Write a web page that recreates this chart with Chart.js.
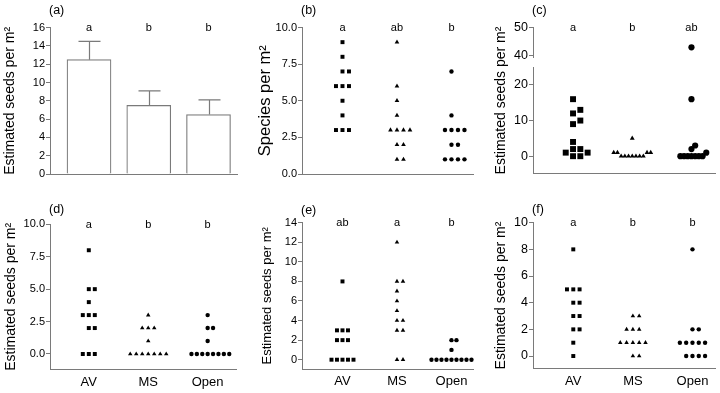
<!DOCTYPE html>
<html><head><meta charset="utf-8">
<script src="https://cdn.jsdelivr.net/npm/chart.js@4/dist/chart.umd.min.js"></script>
<style>
html,body{margin:0;padding:0;background:#fff;width:720px;height:393px;overflow:hidden}
.p{position:absolute}
</style></head><body>
<div class="p" style="left:0;top:0;width:240px;height:196px"><canvas id="ca"></canvas></div>
<div class="p" style="left:240px;top:0;width:240px;height:196px"><canvas id="cb"></canvas></div>
<div class="p" style="left:480px;top:0;width:240px;height:196px"><canvas id="cc"></canvas></div>
<div class="p" style="left:0;top:196px;width:240px;height:197px"><canvas id="cd"></canvas></div>
<div class="p" style="left:240px;top:196px;width:240px;height:197px"><canvas id="ce"></canvas></div>
<div class="p" style="left:480px;top:196px;width:240px;height:197px"><canvas id="cf"></canvas></div>
<script>
// ---------------- DATA ----------------
const groups = ['AV', 'MS', 'Open'];

// (a) mean estimated seeds per m2 with standard error
const seedMeans = [12.5, 7.5, 6.5];
const seedSE = [2.0, 1.6, 1.6];
const lettersA = ['a', 'b', 'b'];
const ticksA = [0, 2, 4, 6, 8, 10, 12, 14, 16];

// (b) species per m2
const speciesAV = [9, 8, 7, 7, 6, 6, 6, 5, 4, 3, 3, 3];
const speciesMS = [9, 6, 5, 4, 3, 3, 3, 3, 2, 2, 1, 1];
const speciesOpen = [7, 4, 3, 3, 3, 3, 2, 2, 1, 1, 1, 1];
const lettersB = ['a', 'ab', 'b'];
const ticksB = [0, 2.5, 5, 7.5, 10];

// (c) estimated seeds per m2 (broken axis)
const cAV = [16, 13, 12, 10, 9, 4, 2, 2, 1, 1, 0, 0];
const cMS = [5, 1, 1, 1, 1, 0, 0, 0, 0, 0, 0, 0];
const cOpen = [43, 16, 3, 2, 1, 0, 0, 0, 0, 0, 0, 0];
const lettersC = ['a', 'b', 'ab'];
const ticksCLow = [0, 10, 20];
const ticksCHigh = [40, 50];

// (d)
const dAV = [8, 5, 5, 4, 3, 3, 3, 2, 2, 0, 0, 0];
const dMS = [3, 2, 2, 2, 1, 0, 0, 0, 0, 0, 0, 0];
const dOpen = [3, 2, 2, 1, 0, 0, 0, 0, 0, 0, 0, 0];
const lettersD = ['a', 'b', 'b'];
const ticksD = [0, 2.5, 5, 7.5, 10];

// (e)
const eAV = [8, 3, 3, 3, 2, 2, 2, 0, 0, 0, 0, 0];
const eMS = [12, 8, 8, 7, 6, 5, 4, 4, 3, 3, 0, 0];
const eOpen = [2, 2, 1, 0, 0, 0, 0, 0, 0, 0, 0, 0];
const lettersE = ['ab', 'a', 'b'];
const ticksE = [0, 2, 4, 6, 8, 10, 12, 14];

// (f)
const fAV = [8, 5, 5, 5, 4, 4, 3, 3, 2, 2, 1, 0];
const fMS = [3, 3, 2, 2, 2, 1, 1, 1, 1, 1, 0, 0];
const fOpen = [8, 2, 2, 1, 1, 1, 1, 1, 0, 0, 0, 0];
const lettersF = ['a', 'b', 'b'];
const ticksF = [0, 2, 4, 6, 8, 10];

const seedTitle = 'Estimated seeds per m\u00B2';
const speciesTitle = 'Species per m\u00B2';

// ---------------- STYLE / HELPERS ----------------
const FONT = '"Liberation Sans", Arial, Helvetica, sans-serif';
const AXIS = '#7a7a7a';
Chart.defaults.font.family = FONT;
Chart.defaults.color = '#000';
Chart.defaults.animation = false;
Chart.defaults.events = [];

const annot = {
  id: 'annot',
  afterDraw(chart, args, o) {
    const {ctx, chartArea} = chart;
    const xs = chart.scales.x;
    ctx.save();
    ctx.fillStyle = '#000';
    ctx.font = '11px ' + FONT;
    ctx.textAlign = 'center';
    ctx.textBaseline = 'alphabetic';
    o.letters.forEach((t, i) => ctx.fillText(t, xs.getPixelForValue(i + 1), chartArea.top + 3.2));
    ctx.font = '12.5px ' + FONT;
    ctx.textAlign = 'left';
    ctx.textBaseline = 'middle';
    ctx.fillText(o.label, chartArea.left - 1, o.labelY);
    if (o.yTitle) {
      ctx.font = o.yTitleSize + 'px ' + FONT;
      ctx.translate(o.yTitleX, (chartArea.top + chartArea.bottom) / 2);
      ctx.rotate(-Math.PI / 2);
      ctx.textAlign = 'center';
      ctx.fillText(o.yTitle, 0, 0);
    }
    ctx.restore();
  }
};

const errorBars = {
  id: 'errorBars',
  afterDatasetsDraw(chart) {
    const {ctx} = chart;
    const ys = chart.scales.y;
    const meta = chart.getDatasetMeta(0);
    ctx.save();
    ctx.strokeStyle = AXIS;
    ctx.lineWidth = 1.2;
    meta.data.forEach((bar, i) => {
      const top = ys.getPixelForValue(seedMeans[i] + seedSE[i]);
      const x = Math.round(bar.x) + 0.5;
      ctx.beginPath();
      ctx.moveTo(x, bar.y);
      ctx.lineTo(x, top);
      ctx.moveTo(x - 11, top);
      ctx.lineTo(x + 11, top);
      ctx.stroke();
    });
    ctx.restore();
  }
};

function xAxis(min, max, showLabels, height) {
  return {
    type: 'linear', position: 'bottom', min, max, offset: false,
    afterBuildTicks: s => { s.ticks = groups.map((g, i) => ({value: i + 1})); },
    afterFit: s => { s.height = height; },
    grid: {display: false, drawTicks: false},
    border: {display: true, color: AXIS, width: 1},
    ticks: {display: showLabels, color: '#000', padding: 5, autoSkip: false, maxRotation: 0,
      font: {size: 13}, callback: v => groups[Math.round(v) - 1]}
  };
}

function yAxis(min, max, ticks, dec, fontSize, width, title, titleSize) {
  return {
    type: 'linear', position: 'left', min, max,
    afterBuildTicks: s => { s.ticks = ticks.map(v => ({value: v})); },
    afterFit: s => { s.width = width; },
    grid: {display: true, drawOnChartArea: false, drawTicks: true, tickLength: 4, color: AXIS},
    border: {display: true, color: AXIS, width: 1},
    ticks: {color: '#000', padding: 1, autoSkip: false, font: {size: fontSize}, callback: v => Number(v).toFixed(dec)},
    title: title ? {display: true, text: title, color: '#000', font: {size: titleSize}, padding: {top: 2, bottom: 0}} : {display: false}
  };
}

// deterministic beeswarm layout in pixel space
function swarm(values, cat, xs, ys, step, dmin) {
  const cx = xs.getPixelForValue(cat);
  const order = values.map((v, i) => i).sort((a, b) => values[a] - values[b] || a - b);
  const placed = [];
  const out = new Array(values.length);
  for (const i of order) {
    const py = ys.getPixelForValue(values[i]);
    for (let k = 0; k < 200; k++) {
      const m = k === 0 ? 0 : (k % 2 ? (k + 1) / 2 : -k / 2);
      const px = cx + m * step;
      const hit = placed.some(p => Math.abs(p.px - px) < dmin - 0.01 && Math.abs(p.py - py) < dmin - 0.01);
      if (!hit) {
        placed.push({px, py});
        out[i] = {x: xs.getValueForPixel(px), y: values[i]};
        break;
      }
    }
  }
  return out;
}

function scatterPanel(id, series, scales, padding, annotOpts) {
  const datasets = series.map(s => ({
    data: s.values.map(v => ({x: s.cat, y: v})),
    yAxisID: s.yAxisID || 'y',
    pointStyle: s.style, pointRadius: s.r,
    backgroundColor: '#000', borderColor: '#000', pointBorderWidth: 0, borderWidth: 0,
    showLine: false, clip: false
  }));
  const chart = new Chart(document.getElementById(id), {
    type: 'scatter',
    data: {datasets},
    options: {
      responsive: true, maintainAspectRatio: false,
      layout: {padding},
      scales,
      plugins: {legend: {display: false}, tooltip: {enabled: false}, annot: annotOpts}
    },
    plugins: [annot]
  });
  series.forEach((s, i) => {
    chart.data.datasets[i].data = swarm(s.values, s.cat, chart.scales.x, chart.scales[s.yAxisID || 'y'], s.step, s.dmin);
  });
  chart.update('none');
  return chart;
}

// ---------------- (a) bars ----------------
new Chart(document.getElementById('ca'), {
  type: 'bar',
  data: {datasets: [{
    data: seedMeans.map((m, i) => ({x: i + 1, y: m})),
    backgroundColor: '#fff', borderColor: AXIS, borderWidth: 1.2, barThickness: 44
  }]},
  options: {
    responsive: true, maintainAspectRatio: false,
    layout: {padding: {left: 0, right: 3, top: 27.7, bottom: 0}},
    scales: {
      x: xAxis(0.347, 3.477, false, 22),
      y: yAxis(0, 16, ticksA, 0, 11, 50, seedTitle, 14)
    },
    plugins: {legend: {display: false}, tooltip: {enabled: false},
      annot: {letters: lettersA, label: '(a)', labelY: 11}}
  },
  plugins: [annot, errorBars]
});

// ---------------- (b) ----------------
scatterPanel('cb', [
  {values: speciesAV, cat: 1, style: 'rect', r: 2.8, step: 6.5, dmin: 6},
  {values: speciesMS, cat: 2, style: 'triangle', r: 2.7, step: 6.5, dmin: 6},
  {values: speciesOpen, cat: 3, style: 'circle', r: 2.2, step: 6.5, dmin: 6}
], {
  x: xAxis(0.257, 3.395, false, 22),
  y: yAxis(0, 10, ticksB, 1, 11, 48, speciesTitle, 16.5)
}, {left: 14, right: 7, top: 27.5, bottom: 0}, {letters: lettersB, label: '(b)', labelY: 10.5});

// ---------------- (c) broken axis ----------------
const cBreak = 25;
scatterPanel('cc', [
  {values: cAV, cat: 1, style: 'rect', r: 4.2, step: 7.3, dmin: 7},
  {values: cMS, cat: 2, style: 'triangle', r: 2.8, step: 3.7, dmin: 3.7},
  {values: cOpen.filter(v => v <= cBreak), cat: 3, style: 'circle', r: 3.1, step: 3.7, dmin: 3.7},
  {values: cOpen.filter(v => v > cBreak), cat: 3, style: 'circle', r: 3.1, step: 3.7, dmin: 3.7, yAxisID: 'y2'}
], {
  x: xAxis(0.324, 3.411, false, 22.7),
  y: Object.assign(yAxis(-4.8, 25, ticksCLow, 0, 12.5, 53, null), {stack: 'c', stackWeight: 106.2}),
  yGap: {type: 'linear', axis: 'y', position: 'left', display: false, min: 0, max: 1, stack: 'c', stackWeight: 10},
  y2: Object.assign(yAxis(39.5, 50, ticksCHigh, 0, 12.5, 53, null), {axis: 'y', stack: 'c', stackWeight: 29.4})
}, {left: 0, right: 3, top: 27.7, bottom: 0},
{letters: lettersC, label: '(c)', labelY: 10.8, yTitle: seedTitle, yTitleX: 21, yTitleSize: 14});

// ---------------- (d) ----------------
scatterPanel('cd', [
  {values: dAV, cat: 1, style: 'rect', r: 2.8, step: 6, dmin: 6},
  {values: dMS, cat: 2, style: 'triangle', r: 2.6, step: 6, dmin: 6},
  {values: dOpen, cat: 3, style: 'circle', r: 2.2, step: 5.4, dmin: 5.4}
], {
  x: xAxis(0.347, 3.477, true, 23.7),
  y: yAxis(-1.18, 10, ticksD, 1, 11, 49, seedTitle, 14)
}, {left: 1, right: 3, top: 28.3, bottom: 0}, {letters: lettersD, label: '(d)', labelY: 13.7});

// ---------------- (e) ----------------
scatterPanel('ce', [
  {values: eAV, cat: 1, style: 'rect', r: 2.8, step: 5.5, dmin: 5.5},
  {values: eMS, cat: 2, style: 'triangle', r: 2.6, step: 6, dmin: 6},
  {values: eOpen, cat: 3, style: 'circle', r: 2.2, step: 5, dmin: 5}
], {
  x: xAxis(0.257, 3.395, true, 24),
  y: yAxis(-0.95, 14, ticksE, 0, 11, 44.5, seedTitle, 13)
}, {left: 17.5, right: 7, top: 26.7, bottom: 0}, {letters: lettersE, label: '(e)', labelY: 14.8});

// ---------------- (f) ----------------
scatterPanel('cf', [
  {values: fAV, cat: 1, style: 'rect', r: 2.8, step: 6.3, dmin: 6},
  {values: fMS, cat: 2, style: 'triangle', r: 2.6, step: 6.3, dmin: 6},
  {values: fOpen, cat: 3, style: 'circle', r: 2.2, step: 6.3, dmin: 6}
], {
  x: xAxis(0.324, 3.378, true, 24.7),
  y: yAxis(-0.92, 10, ticksF, 0, 12.5, 42.5, seedTitle, 14)
}, {left: 10.5, right: 5, top: 26.7, bottom: 0}, {letters: lettersF, label: '(f)', labelY: 13.3});
</script>
</body></html>
